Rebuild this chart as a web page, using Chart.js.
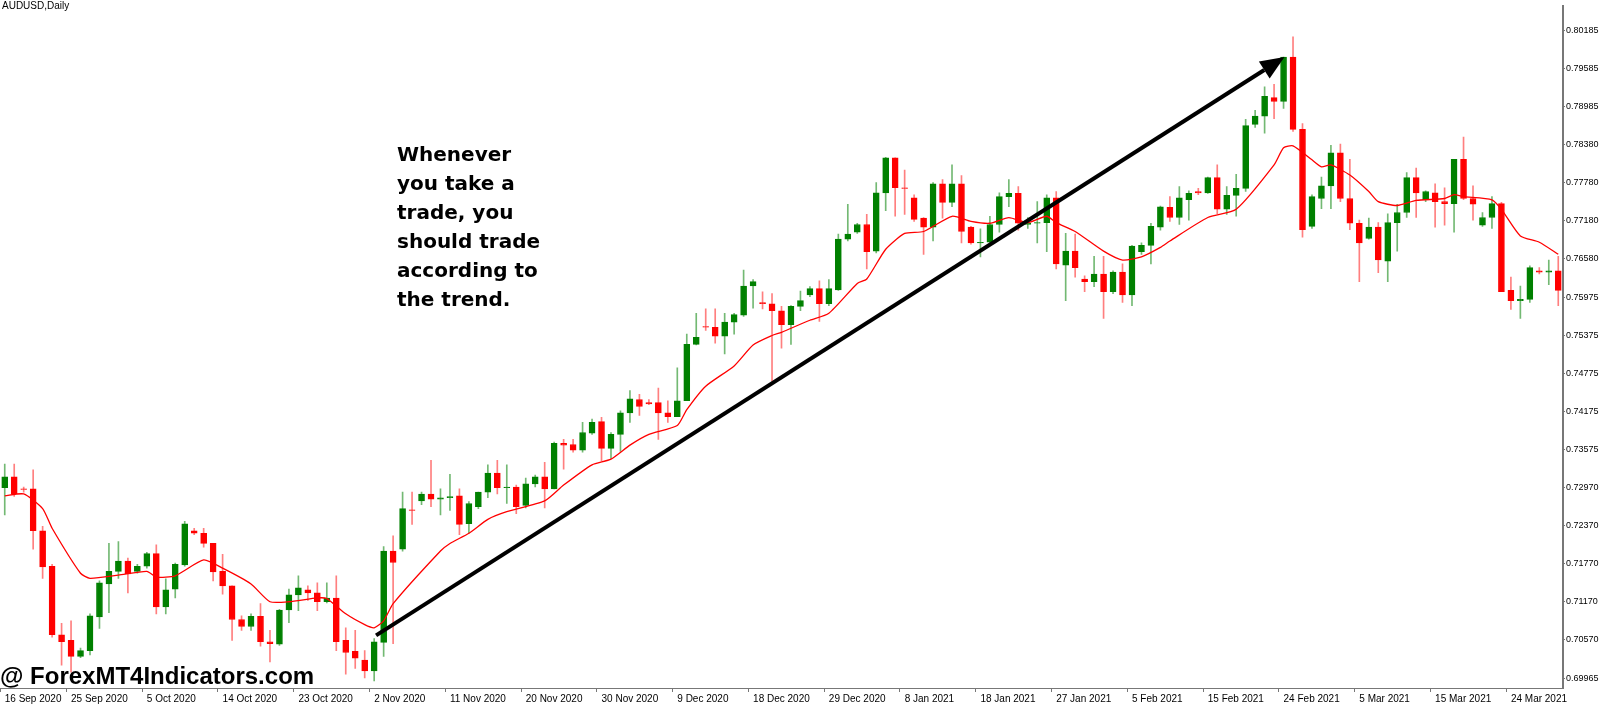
<!DOCTYPE html>
<html>
<head>
<meta charset="utf-8">
<script src="https://cdn.jsdelivr.net/npm/chart.js@4"></script>
<style>
  html, body { margin: 0; padding: 0; background: #fff; }
  #wrap { position: relative; width: 1600px; height: 713px; }
  #title { position: absolute; left: 2px; top: 0px; font: 10px "Liberation Sans", sans-serif; color: #000; }
  #note { position: absolute; left: 397px; top: 140px; font: bold 20px "DejaVu Sans", sans-serif; line-height: 29px; color: #000; }
  #mark { position: absolute; left: 0px; top: 662px; font: bold 24px "Liberation Sans", sans-serif; color: #000; }
</style>
</head>
<body>
<div id="wrap">
  <canvas id="chart" width="1600" height="713"></canvas>
  <div id="title">AUDUSD,Daily</div>
  <div id="note">Whenever<br>you take a<br>trade, you<br>should trade<br>according to<br>the trend.</div>
  <div id="mark">@ ForexMT4Indicators.com</div>
</div>
<script>
// daily AUDUSD candles
const open = [
  .7297,.7314,.7295,.7295,.7229,.7173,.7065,.7056,.7031,.7040,
  .7093,.7145,.7165,.7181,.7165,.7173,.7193,.7109,.7137,.7175,
  .7229,.7225,.7209,.7165,.7142,.7089,.7078,.7094,.7054,.7050,
  .7104,.7128,.7136,.7131,.7117,.7123,.7056,.7039,.7025,.7008,
  .7053,.7197,
  .7200,.7262,.7276,.7287,.7279,.7281,.7284,.7240,.7267,.7290,
  .7320,.7297,.7298,.7269,.7303,.7314,.7295,.7367,.7365,.7356,
  .7383,.7401,.7359,.7381,.7415,.7436,.7431,.7431,.7415,.7409,
  .7434,.7523,.7551,.7550,.7536,.7558,.7569,.7615,.7589,.7587,
  .7576,.7554,.7583,.7601,.7611,.7587,.7609,.7689,.7700,.7712,
  .7670,.7762,.7817,.7770,.7754,.7722,.7708,.7776,.7747,.7776,
  .7708,.7683,.7684,.7712,.7756,.7761,.7712,.7714,.7715,.7754,
  .7648,.7670,.7626,.7622,.7634,.7606,.7637,.7601,.7669,.7679,
  .7708,.7739,.7723,.7751,.7764,.7762,.7786,.7736,.7758,.7769,
  .7870,.7883,.7912,.7906,.7976,.7862,.7709,.7753,.7773,.7825,
  .7753,.7714,.7690,.7708,.7654,.7715,.7731,.7786,.7751,.7762,
  .7748,.7745,.7815,.7753,.7711,.7723,.7745,.7608,.7592,.7594,
  .7639,.7637,.7639
];
const high = [
  .7334,.7334,.7298,.7325,.7236,.7176,.7083,.7087,.7044,.7098,
  .7150,.7209,.7212,.7186,.7176,.7195,.7207,.7153,.7178,.7244,
  .7233,.7233,.7209,.7192,.7142,.7095,.7098,.7114,.7072,.7105,
  .7137,.7158,.7142,.7147,.7147,.7158,.7076,.7072,.7040,.7059,
  .7204,.7221,
  .7290,.7290,.7290,.7340,.7295,.7318,.7295,.7275,.7290,.7333,
  .7340,.7333,.7301,.7312,.7317,.7337,.7369,.7373,.7373,.7400,
  .7405,.7408,.7384,.7418,.7450,.7444,.7436,.7454,.7434,.7486,
  .7539,.7572,.7579,.7579,.7572,.7572,.7640,.7625,.7606,.7603,
  .7583,.7584,.7607,.7614,.7623,.7625,.7697,.7744,.7714,.7728,
  .7778,.7818,.7817,.7798,.7759,.7723,.7778,.7783,.7806,.7789,
  .7709,.7705,.7725,.7762,.7783,.7772,.7723,.7748,.7759,.7764,
  .7698,.7697,.7631,.7662,.7662,.7639,.7650,.7679,.7683,.7714,
  .7741,.7756,.7772,.7765,.7769,.7787,.7806,.7772,.7791,.7878,
  .7892,.7929,.7933,.7976,.8008,.7871,.7759,.7787,.7837,.7839,
  .7815,.7719,.7722,.7715,.7729,.7744,.7794,.7801,.7765,.7776,
  .7770,.7815,.7850,.7773,.7731,.7756,.7747,.7629,.7615,.7647,
  .7644,.7656,.7662
];
const low = [
  .7254,.7283,.7290,.7200,.7154,.7061,.7017,.7006,.7029,.7033,
  .7075,.7100,.7154,.7131,.7162,.7170,.7098,.7098,.7123,.7173,
  .7223,.7203,.7150,.7129,.7056,.7072,.7072,.7047,.7022,.7048,
  .7084,.7103,.7119,.7103,.7115,.7040,.7003,.7012,.6997,.6992,
  .7031,.7051,
  .7197,.7239,.7270,.7267,.7254,.7261,.7223,.7225,.7264,.7281,
  .7287,.7272,.7256,.7265,.7298,.7265,.7295,.7326,.7353,.7353,
  .7381,.7339,.7343,.7354,.7400,.7411,.7428,.7373,.7400,.7409,
  .7434,.7522,.7545,.7525,.7508,.7539,.7567,.7580,.7579,.7465,
  .7517,.7523,.7576,.7598,.7559,.7584,.7608,.7686,.7698,.7642,
  .7667,.7734,.7725,.7728,.7717,.7665,.7686,.7722,.7740,.7683,
  .7681,.7661,.7681,.7700,.7740,.7703,.7706,.7683,.7669,.7642,
  .7592,.7629,.7606,.7614,.7564,.7603,.7589,.7584,.7665,.7650,
  .7703,.7717,.7712,.7719,.7759,.7761,.7729,.7728,.7725,.7764,
  .7865,.7856,.7879,.7895,.7859,.7692,.7706,.7737,.7737,.7748,
  .7704,.7622,.7689,.7636,.7622,.7670,.7723,.7723,.7748,.7708,
  .7711,.7700,.7751,.7719,.7709,.7706,.7606,.7578,.7564,.7589,
  .7634,.7617,.7584
];
const close = [
  .7314,.7287,.7294,.7229,.7172,.7065,.7054,.7031,.7040,.7095,
  .7147,.7165,.7181,.7161,.7173,.7193,.7109,.7136,.7176,.7240,
  .7225,.7209,.7164,.7142,.7089,.7078,.7094,.7054,.7051,.7104,
  .7128,.7139,.7131,.7117,.7123,.7054,.7037,.7028,.7008,.7054,
  .7197,.7179,
  .7264,.7261,.7287,.7279,.7281,.7283,.7239,.7272,.7290,.7320,
  .7297,.7298,.7267,.7303,.7314,.7295,.7367,.7364,.7356,.7384,
  .7400,.7359,.7381,.7415,.7437,.7425,.7429,.7415,.7409,.7434,
  .7523,.7534,.7550,.7536,.7558,.7570,.7615,.7622,.7587,.7576,
  .7554,.7583,.7592,.7611,.7587,.7611,.7689,.7697,.7712,.7669,
  .7762,.7817,.7770,.7769,.7720,.7708,.7776,.7747,.7776,.7701,
  .7683,.7684,.7712,.7756,.7761,.7714,.7714,.7715,.7754,.7650,
  .7670,.7644,.7622,.7634,.7606,.7637,.7601,.7678,.7679,.7709,
  .7740,.7723,.7754,.7761,.7762,.7786,.7736,.7758,.7769,.7868,
  .7883,.7914,.7906,.7976,.7862,.7704,.7756,.7773,.7825,.7753,
  .7714,.7683,.7708,.7656,.7715,.7731,.7786,.7762,.7764,.7748,
  .7745,.7815,.7753,.7744,.7723,.7745,.7606,.7592,.7594,.7644,
  .7637,.7639,.7608
];

// red moving average, read at the bars where it bends
const maIdx = [0,2,4,5,8,9,12,15,16,18,21,23,26,28,30,33,34,36,38,39,40,41,46,47,49,51,53,57,59,62,64,66,68,71,72,74,77,79,81,82,85,87,90,91,93,95,97,100,102,104,106,108,110,111,113,116,118,120,122,123,127,130,134,135,136,138,139,140,142,144,145,147,149,152,153,154,157,158,160,162,164];
const maVal = [.7284,.7287,.7264,.7233,.7162,.7154,.7159,.7165,.7156,.7158,.7183,.7170,.7145,.7117,.7117,.7123,.7122,.7098,.7081,.7076,.7087,.7114,.7197,.7209,.7225,.7247,.7259,.7276,.7301,.7333,.7342,.7364,.7381,.7395,.7420,.7457,.7489,.7522,.7537,.7542,.7561,.7572,.7619,.7626,.7673,.7698,.7701,.7725,.7717,.7714,.7723,.7715,.7725,.7715,.7701,.7670,.7656,.7661,.7676,.7686,.7723,.7736,.7806,.7833,.7836,.7814,.7803,.7806,.7790,.7764,.7748,.7742,.7750,.7753,.7759,.7756,.7751,.7736,.7694,.7684,.7665];

// date labels on the time axis and the bar they sit on
const dateText = ["16 Sep 2020","25 Sep 2020","5 Oct 2020","14 Oct 2020","23 Oct 2020","2 Nov 2020","11 Nov 2020","20 Nov 2020","30 Nov 2020","9 Dec 2020","18 Dec 2020","29 Dec 2020","8 Jan 2021","18 Jan 2021","27 Jan 2021","5 Feb 2021","15 Feb 2021","24 Feb 2021","5 Mar 2021","15 Mar 2021","24 Mar 2021"];
const dateIdx = [0,7,15,23,31,39,47,55,63,71,79,87,95,103,111,119,127,135,143,151,159];

// price axis labels
const priceTicks = [0.80185,0.79585,0.78985,0.78380,0.77780,0.77180,0.76580,0.75975,0.75375,0.74775,0.74175,0.73575,0.72970,0.72370,0.71770,0.71170,0.70570,0.69965];

// trend arrow: [bar, price] start and end
const arrowFrom = [39.2, 0.7064];
const arrowTo = [135.1, 0.7976];

const n = open.length;
const labels = open.map((_, i) => String(i));
const bodies = open.map((o, i) => [o, close[i]]);
const wicks = low.map((l, i) => [l, high[i]]);
const up = open.map((o, i) => close[i] >= o);
const maLine = new Array(n).fill(null);
maIdx.forEach((k, j) => { maLine[k] = maVal[j]; });
const labelAt = {};
dateIdx.forEach((k, j) => { labelAt[k] = dateText[j]; });

const arrowPlugin = {
    id: "arrow",
    afterDatasetsDraw(chart) {
        const { ctx, scales } = chart;
        const x1 = scales.x.getPixelForValue(arrowFrom[0]);
        const y1 = scales.y.getPixelForValue(arrowFrom[1]);
        const x2 = scales.x.getPixelForValue(arrowTo[0]);
        const y2 = scales.y.getPixelForValue(arrowTo[1]);
        const a = Math.atan2(y2 - y1, x2 - x1);
        const hl = 24, hw = 10;
        const bx = x2 - hl * Math.cos(a), by = y2 - hl * Math.sin(a);
        ctx.save();
        ctx.strokeStyle = "#000";
        ctx.fillStyle = "#000";
        ctx.lineWidth = 4;
        ctx.beginPath();
        ctx.moveTo(x1, y1);
        ctx.lineTo(bx, by);
        ctx.stroke();
        ctx.beginPath();
        ctx.moveTo(x2, y2);
        ctx.lineTo(bx + hw * Math.sin(a), by - hw * Math.cos(a));
        ctx.lineTo(bx - hw * Math.sin(a), by + hw * Math.cos(a));
        ctx.closePath();
        ctx.fill();
        ctx.restore();
    }
};

new Chart(document.getElementById("chart"), {
    data: {
        labels: labels,
        datasets: [
            {
                type: "line",
                data: maLine,
                borderColor: "#ff0000",
                borderWidth: 1.3,
                pointRadius: 0,
                spanGaps: true,
                tension: 0.2,
                order: -1,
            },
            {
                type: "bar",
                data: bodies,
                backgroundColor: up.map((u) => (u ? "#008000" : "#ff0000")),
                borderColor: up.map((u) => (u ? "#008000" : "#ff0000")),
                borderWidth: 1,
                borderSkipped: false,
                barThickness: 6,
                grouped: false,
                order: 0,
            },
            {
                type: "bar",
                data: wicks,
                backgroundColor: up.map((u) => (u ? "rgba(0,128,0,0.55)" : "rgba(255,0,0,0.5)")),
                barThickness: 1,
                grouped: false,
                order: 1,
            },
        ],
    },
    options: {
        responsive: false,
        animation: false,
        layout: { padding: 0 },
        plugins: { legend: { display: false }, tooltip: { enabled: false } },
        scales: {
            x: {
                type: "category",
                afterFit: (s) => { s.height = 25; },
                grid: {
                    drawOnChartArea: false,
                    tickLength: 4,
                    color: (c) => (labelAt[c.index] !== undefined ? "#777" : "rgba(0,0,0,0)"),
                },
                border: { display: true, color: "#777" },
                ticks: {
                    autoSkip: false,
                    maxRotation: 0,
                    align: "start",
                    padding: 1,
                    color: "#000",
                    font: { family: "Liberation Sans", size: 10 },
                    callback: (v, i) => labelAt[i] || "",
                },
            },
            y: {
                position: "right",
                min: 0.6981,
                max: 0.8056,
                afterFit: (s) => { s.width = 37; },
                afterBuildTicks: (s) => { s.ticks = priceTicks.map((v) => ({ value: v })); },
                grid: { drawOnChartArea: false, tickLength: 2, color: "#777" },
                border: { display: true, color: "#777", width: 2 },
                ticks: {
                    padding: 1,
                    color: "#000",
                    font: { family: "Liberation Sans", size: 9 },
                    callback: (v) => v.toFixed(5),
                },
            },
        },
    },
    plugins: [arrowPlugin],
});
</script>
</body>
</html>
